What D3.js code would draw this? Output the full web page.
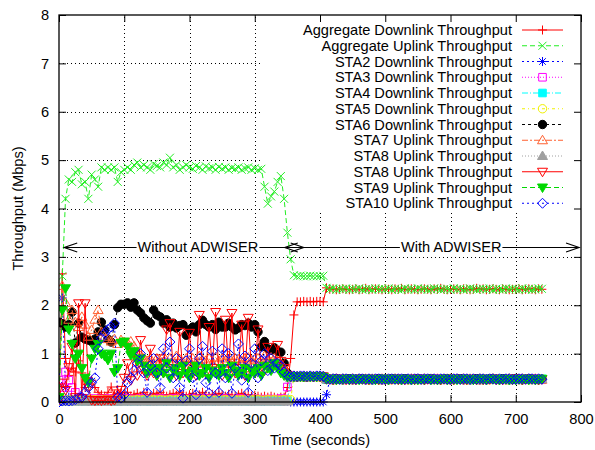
<!DOCTYPE html>
<html><head><meta charset="utf-8">
<script src="https://cdn.jsdelivr.net/npm/d3@7"></script>
<style>body{margin:0;background:#fff}svg{display:block;font-family:"Liberation Sans",Arial,Helvetica,sans-serif}</style>
</head><body><svg id="c" width="595" height="450"></svg>
<script>
const times = [0,5,10,15,20,25,30,35,40,45,
50,55,60,65,70,75,80,85,90,95,
100,105,110,115,120,125,130,135,140,145,
150,155,160,165,170,175,180,185,190,195,
200,205,210,215,220,225,230,235,240,245,
250,255,260,265,270,275,280,285,290,295,
300,305,310,315,320,325,330,335,340,345,
350,355,360,365,370,375,380,385,390,395,
400,405,410,415,420,425,430,435,440,445,
450,455,460,465,470,475,480,485,490,495,
500,505,510,515,520,525,530,535,540,545,
550,555,560,565,570,575,580,585,590,595,
600,605,610,615,620,625,630,635,640,645,
650,655,660,665,670,675,680,685,690,695,
700,705,710,715,720,725,730,735,740];

const aggDown = [0.05,2.65,0.9,0.55,0.7,0.62,0.85,0.6,0.3,0.5,
0.45,0.3,0.2,0.15,0.12,0.2,0.31,0.15,0.25,0.2,
0.15,0.2,0.12,0.15,0.18,0.12,0.2,0.15,0.12,0.18,
0.15,0.2,0.15,0.12,0.15,0.18,0.14,0.2,0.15,0.12,
0.15,0.18,0.12,0.15,0.2,0.15,0.12,0.16,0.14,0.18,
0.15,0.12,0.16,0.14,0.12,0.15,0.18,0.13,0.15,0.12,
0.14,0.12,0.1,0.12,0.1,0.12,0.1,0.08,0.1,0.1,
0.3,0.9,1.8,2.07,2.07,2.08,2.07,2.08,2.07,2.08,
2.08,2.07,2.36,2.33,2.34,2.32,2.33,2.34,2.33,2.32,
2.33,2.34,2.32,2.33,2.35,2.32,2.33,2.34,2.33,2.32,
2.34,2.33,2.32,2.34,2.33,2.35,2.32,2.33,2.34,2.33,
2.32,2.33,2.34,2.33,2.32,2.34,2.33,2.35,2.33,2.32,
2.33,2.34,2.33,2.32,2.34,2.33,2.32,2.33,2.35,2.33,
2.34,2.32,2.33,2.34,2.33,2.32,2.34,2.33,2.32,2.33,
2.33,2.34,2.32,2.33,2.34,2.33,2.32,2.34,2.33];

const aggUp = [0.02,2.6,4.2,4.6,4.55,4.75,4.8,4.5,4.55,4.2,
4.7,4.6,4.45,4.85,4.8,4.85,4.8,4.85,4.55,4.75,
4.8,4.85,4.8,4.9,4.95,4.85,4.9,4.85,4.8,4.92,
4.88,4.85,4.95,4.9,5.05,4.85,4.9,4.8,4.85,4.9,
4.85,4.82,4.88,4.85,4.8,4.87,4.83,4.85,4.8,4.86,
4.82,4.85,4.8,4.84,4.82,4.85,4.8,4.83,4.85,4.8,
4.83,4.8,4.82,4.45,4.1,4.25,4.35,4.55,4.67,4.2,
3.5,2.95,2.62,2.6,2.61,2.6,2.6,2.61,2.6,2.6,
2.6,2.61,2.36,2.33,2.35,2.32,2.34,2.33,2.35,2.32,
2.34,2.33,2.35,2.32,2.33,2.34,2.32,2.35,2.33,2.34,
2.33,2.35,2.32,2.34,2.33,2.32,2.35,2.33,2.34,2.32,
2.35,2.33,2.34,2.32,2.33,2.35,2.34,2.32,2.33,2.34,
2.32,2.35,2.33,2.34,2.32,2.33,2.35,2.34,2.32,2.33,
2.34,2.33,2.35,2.32,2.34,2.33,2.32,2.35,2.33,2.34,
2.33,2.32,2.35,2.33,2.34,2.32,2.33,2.35,2.34];

const sta2Down = [0.35,2.15,0.3,0.1,0.05,0.03,0.02,0.02,0.03,0.02,
0.02,0.03,0.02,0.02,0.03,0.02,0.02,0.03,0.02,0.02,
0.03,0.02,0.02,0.03,0.02,0.02,0.03,0.02,0.02,0.03,
0.02,0.03,0.02,0.02,0.03,0.02,0.02,0.03,0.02,0.02,
0.03,0.02,0.02,0.03,0.02,0.02,0.03,0.02,0.02,0.03,
0.02,0.03,0.02,0.02,0.03,0.02,0.02,0.03,0.02,0.02,
0.02,0.03,0.02,0.02,0.03,0.02,0.02,0.03,0.02,0.02,
0.02,0,0,0,0,0,0,0,0,0,
0,0,0.15,0.47,0.48,0.47,0.46,0.47,0.48,0.47,
0.47,0.46,0.48,0.47,0.47,0.46,0.48,0.47,0.46,0.47,
0.46,0.47,0.47,0.48,0.46,0.47,0.46,0.47,0.48,0.46,
0.48,0.47,0.46,0.47,0.48,0.47,0.47,0.46,0.47,0.48,
0.47,0.46,0.48,0.47,0.47,0.46,0.48,0.47,0.46,0.47,
0.46,0.47,0.47,0.48,0.46,0.47,0.46,0.47,0.48,0.46,
0.48,0.47,0.46,0.47,0.48,0.47,0.47,0.46,0.47];

const sta3Down = [0.45,0.3,0.62,0.45,0.3,0.2,0.1,0.08,0.06,0.06,
0.06,0.07,0.06,0.05,0.06,0.07,0.06,0.06,0.05,0.06,
0.06,0.07,0.06,0.05,0.06,0.07,0.06,0.06,0.05,0.06,
0.06,0.07,0.06,0.05,0.06,0.07,0.06,0.06,0.05,0.06,
0.06,0.07,0.06,0.05,0.06,0.07,0.06,0.06,0.05,0.06,
0.06,0.07,0.06,0.05,0.06,0.07,0.06,0.06,0.05,0.06,
0.06,0.05,0.06,0.05,0.06,0.06,0.05,0.06,0.07,0.06,
0.31,0.5,0.53,0.52,0.53,0.52,0.52,0.53,0.52,0.53,
0.52,0.53,0.47,0.46,0.48,0.47,0.47,0.46,0.48,0.47,
0.46,0.47,0.47,0.48,0.46,0.47,0.46,0.47,0.48,0.46,
0.48,0.47,0.46,0.47,0.48,0.47,0.47,0.46,0.47,0.48,
0.47,0.46,0.48,0.47,0.47,0.46,0.48,0.47,0.46,0.47,
0.46,0.47,0.47,0.48,0.46,0.47,0.46,0.47,0.48,0.46,
0.48,0.47,0.46,0.47,0.48,0.47,0.47,0.46,0.47,0.48,
0.47,0.46,0.48,0.47,0.47,0.46,0.48,0.47,0.46];

const sta4Down = [0.02,0.03,0.02,0.02,0.03,0.02,0.03,0.02,0.02,0.03,
0.02,0.03,0.02,0.02,0.03,0.02,0.03,0.02,0.02,0.03,
0.02,0.03,0.02,0.02,0.03,0.02,0.03,0.02,0.02,0.03,
0.02,0.03,0.02,0.02,0.03,0.02,0.03,0.02,0.02,0.03,
0.02,0.03,0.02,0.02,0.03,0.02,0.03,0.02,0.02,0.03,
0.02,0.03,0.02,0.02,0.03,0.02,0.03,0.02,0.02,0.03,
0.02,0.03,0.02,0.02,0.03,0.02,0.03,0.02,0.02,0.03,
0.03,0.5,0.53,0.52,0.53,0.52,0.53,0.52,0.53,0.52,
0.53,0.52,0.46,0.47,0.47,0.48,0.46,0.47,0.46,0.47,
0.48,0.47,0.46,0.47,0.48,0.47,0.47,0.46,0.47,0.48,
0.47,0.46,0.48,0.47,0.47,0.46,0.48,0.47,0.46,0.47,
0.46,0.47,0.47,0.48,0.46,0.47,0.46,0.47,0.48,0.46,
0.48,0.47,0.46,0.47,0.48,0.47,0.47,0.46,0.47,0.48,
0.47,0.46,0.48,0.47,0.47,0.46,0.48,0.47,0.46,0.47,
0.46,0.47,0.47,0.48,0.46,0.47,0.46,0.47,0.48];

const sta5Down = [0.04,0.05,0.04,0.04,0.05,0.04,0.05,0.04,0.04,0.05,
0.04,0.05,0.04,0.04,0.05,0.04,0.05,0.04,0.04,0.05,
0.04,0.05,0.04,0.04,0.05,0.04,0.05,0.04,0.04,0.05,
0.04,0.05,0.04,0.04,0.05,0.04,0.05,0.04,0.04,0.05,
0.04,0.05,0.04,0.04,0.05,0.04,0.05,0.04,0.04,0.05,
0.04,0.05,0.04,0.04,0.05,0.04,0.05,0.04,0.04,0.05,
0.04,0.05,0.04,0.04,0.05,0.04,0.05,0.04,0.04,0.05,
0.04,0.05,0.52,0.53,0.52,0.52,0.53,0.52,0.53,0.52,
0.52,0.53,0.47,0.48,0.47,0.46,0.47,0.48,0.47,0.46,
0.47,0.46,0.48,0.47,0.47,0.46,0.48,0.47,0.46,0.47,
0.48,0.47,0.46,0.47,0.48,0.47,0.47,0.46,0.47,0.48,
0.46,0.47,0.47,0.48,0.46,0.47,0.46,0.47,0.48,0.46,
0.47,0.46,0.48,0.47,0.47,0.46,0.48,0.47,0.46,0.47,
0.48,0.47,0.46,0.47,0.48,0.47,0.47,0.46,0.47,0.48,
0.46,0.47,0.47,0.48,0.46,0.47,0.46,0.47,0.48];

const sta6Down = [1.65,1.62,1.55,1.6,1.86,1.22,1.63,1.34,1.3,1.28,
1.25,1.3,1.45,1.65,1.49,1.3,1.24,1.6,1.95,2.02,
2.02,2.05,1.96,2.05,1.9,1.84,1.74,1.68,1.63,1.9,
1.8,1.76,1.63,1.7,1.55,1.63,1.53,1.58,1.6,1.38,
1.5,1.55,1.45,1.6,1.69,1.6,1.55,1.6,1.5,1.65,
1.55,1.55,1.63,1.55,1.49,1.53,1.6,1.58,1.63,1.55,
1.6,1.45,1.14,1.25,1.1,1.07,1.12,1.05,1.03,0.8,
0.6,0.52,0.53,0.52,0.53,0.52,0.52,0.53,0.52,0.53,
0.53,0.52,0.47,0.47,0.46,0.48,0.47,0.46,0.47,0.48,
0.46,0.47,0.47,0.48,0.46,0.47,0.46,0.47,0.48,0.46,
0.47,0.46,0.48,0.47,0.47,0.46,0.48,0.47,0.46,0.47,
0.48,0.47,0.46,0.47,0.48,0.47,0.47,0.46,0.47,0.48,
0.46,0.47,0.47,0.48,0.46,0.47,0.46,0.47,0.48,0.46,
0.47,0.46,0.48,0.47,0.47,0.46,0.48,0.47,0.46,0.47,
0.48,0.47,0.46,0.47,0.48,0.47,0.47,0.46,0.47];

const sta7Up = [0.1,2.4,2.05,1.7,1.9,1.65,1.55,1.76,1.6,1.35,
1.49,1.7,1.9,1.45,1.35,1.3,1.25,1.3,1.2,1.28,
1.24,1.22,1.25,1.15,1.0,0.95,0.9,0.85,0.9,0.8,
0.9,0.85,0.95,0.8,0.9,0.85,0.95,0.88,0.82,0.9,
0.85,0.9,0.8,0.95,0.88,0.85,0.9,0.8,0.92,0.85,
0.9,0.85,0.95,0.82,0.9,0.88,0.85,0.9,0.92,0.86,
0.88,0.9,0.85,0.95,0.88,0.92,0.9,0.85,0.8,0.7,
0.6,0.53,0.52,0.53,0.52,0.53,0.52,0.52,0.53,0.52,
0.52,0.53,0.47,0.46,0.47,0.48,0.47,0.47,0.46,0.47,
0.48,0.47,0.46,0.47,0.48,0.47,0.47,0.46,0.47,0.48,
0.46,0.47,0.47,0.48,0.46,0.47,0.46,0.47,0.48,0.46,
0.47,0.46,0.48,0.47,0.47,0.46,0.48,0.47,0.46,0.47,
0.48,0.47,0.46,0.47,0.48,0.47,0.47,0.46,0.47,0.48,
0.46,0.47,0.47,0.48,0.46,0.47,0.46,0.47,0.48,0.46,
0.47,0.46,0.48,0.47,0.47,0.46,0.48,0.47,0.46];

const sta8UpA = [0.01,0.02,0.01,0.01,0.02,0.01,0.01,0.02,0.01,0.01,
0.01,0.02,0.01,0.01,0.02,0.01,0.01,0.02,0.01,0.01,
0.01,0.02,0.01,0.01,0.02,0.01,0.01,0.02,0.01,0.01,
0.01,0.02,0.01,0.01,0.02,0.01,0.01,0.02,0.01,0.01,
0.01,0.02,0.01,0.01,0.02,0.01,0.01,0.02,0.01,0.01,
0.01,0.02,0.01,0.01,0.02,0.01,0.01,0.02,0.01,0.01,
0.01,0.02,0.01,0.01,0.02,0.01,0.01,0.02,0.01,0.01,
0.01,0.5,0.52,0.53,0.52,0.53,0.52,0.53,0.52,0.52,
0.53,0.52,0.47,0.47,0.48,0.46,0.47,0.48,0.47,0.46,
0.47,0.46,0.48,0.47,0.47,0.46,0.48,0.47,0.46,0.47,
0.46,0.47,0.47,0.48,0.46,0.47,0.46,0.47,0.48,0.46,
0.48,0.47,0.46,0.47,0.48,0.47,0.47,0.46,0.47,0.48,
0.47,0.46,0.48,0.47,0.47,0.46,0.48,0.47,0.46,0.47,
0.46,0.47,0.47,0.48,0.46,0.47,0.46,0.47,0.48,0.46,
0.48,0.47,0.46,0.47,0.48,0.47,0.47,0.46,0.47];

const sta8UpB = [0.05,0.4,0.25,0.72,1.14,0.1,2.04,0.08,2.04,0.3,
0.04,0.03,0.04,0.03,0.04,0.05,0.03,0.04,0.1,0.25,
0.5,0.8,0.45,1.0,0.55,1.28,0.66,0.55,1.1,0.6,
0.55,0.9,0.6,1.5,1.63,0.7,0.55,1.45,0.6,0.75,
1.43,0.6,0.55,1.8,0.65,0.6,1.55,0.7,1.86,0.6,
0.55,1.7,0.65,1.84,0.6,0.7,1.6,0.55,1.74,0.65,
0.6,1.5,0.7,0.65,1.14,0.75,0.8,1.18,0.85,0.7,
0.55,0.52,0.53,0.52,0.53,0.53,0.52,0.53,0.52,0.53,
0.52,0.53,0.48,0.47,0.46,0.47,0.48,0.47,0.46,0.47,
0.47,0.46,0.48,0.47,0.47,0.46,0.48,0.47,0.46,0.47,
0.46,0.47,0.47,0.48,0.46,0.47,0.46,0.47,0.48,0.46,
0.48,0.47,0.46,0.47,0.48,0.47,0.47,0.46,0.47,0.48,
0.47,0.46,0.48,0.47,0.47,0.46,0.48,0.47,0.46,0.47,
0.46,0.47,0.47,0.48,0.46,0.47,0.46,0.47,0.48,0.46,
0.48,0.47,0.46,0.47,0.48,0.47,0.47,0.46,0.47];

const sta9Up = [0.1,1.9,2.35,1.5,1.2,0.9,1.0,0.7,0.5,0.4,
0.9,1.1,1.2,1.0,0.95,0.87,1.0,0.62,0.7,1.22,
1.25,1.14,0.97,1.05,0.85,0.9,0.75,0.6,0.7,0.65,
0.55,0.7,0.6,0.8,0.5,0.65,0.7,0.55,0.75,0.6,
0.5,0.65,0.75,0.55,0.6,0.7,0.5,0.65,0.6,0.55,
0.7,0.6,0.5,0.75,0.65,0.55,0.6,0.7,0.5,0.65,
0.6,0.7,0.55,0.75,0.7,0.65,0.8,0.7,0.6,0.55,
0.52,0.53,0.52,0.53,0.52,0.52,0.53,0.52,0.53,0.52,
0.53,0.52,0.47,0.48,0.47,0.46,0.47,0.47,0.48,0.46,
0.48,0.47,0.46,0.47,0.48,0.47,0.47,0.46,0.47,0.48,
0.47,0.46,0.48,0.47,0.47,0.46,0.48,0.47,0.46,0.47,
0.46,0.47,0.47,0.48,0.46,0.47,0.46,0.47,0.48,0.46,
0.48,0.47,0.46,0.47,0.48,0.47,0.47,0.46,0.47,0.48,
0.47,0.46,0.48,0.47,0.47,0.46,0.48,0.47,0.46,0.47,
0.46,0.47,0.47,0.48,0.46,0.47,0.46,0.47,0.48];

const sta10Up = [0,0.02,0.03,0.02,0.03,0.05,0.08,0.1,0.2,0.3,
0.4,0.5,1.1,1.32,1.42,1.5,1.55,1.63,0.1,0.08,
0.15,0.4,0.5,0.65,0.8,1.0,0.6,0.2,0.75,0.9,
0.6,0.3,1.1,0.7,1.24,0.5,0.9,0.3,0.08,0.85,
1.1,0.5,0.15,0.9,1.15,0.4,0.18,1.05,0.6,0.2,
1.1,0.5,1.0,0.18,0.7,1.2,0.45,0.95,0.2,0.8,
1.1,0.5,0.85,1.0,0.65,0.9,0.7,0.8,0.75,0.62,
0.55,0.53,0.54,0.53,0.54,0.54,0.53,0.54,0.53,0.54,
0.54,0.53,0.48,0.47,0.48,0.48,0.47,0.48,0.48,0.47,
0.48,0.47,0.48,0.48,0.47,0.48,0.47,0.48,0.48,0.47,
0.47,0.48,0.48,0.47,0.48,0.48,0.47,0.48,0.47,0.48,
0.48,0.47,0.48,0.48,0.47,0.48,0.47,0.48,0.48,0.47,
0.47,0.48,0.48,0.47,0.48,0.48,0.47,0.48,0.47,0.48,
0.48,0.47,0.48,0.48,0.47,0.48,0.47,0.48,0.48,0.47,
0.47,0.48,0.48,0.47,0.48,0.48,0.47,0.48,0.47];

const seriesNames = ["Aggregate Downlink Throughput","Aggregate Uplink Throughput",
"STA2 Downlink Throughput","STA3 Downlink Throughput","STA4 Downlink Throughput",
"STA5 Downlink Throughput","STA6 Downlink Throughput","STA7 Uplink Throughput",
"STA8 Uplink Throughput","STA8 Uplink Throughput","STA9 Uplink Throughput","STA10 Uplink Throughput"];
const xTicks = [0,100,200,300,400,500,600,700,800];
const yTicks = [0,1,2,3,4,5,6,7,8];
const arrowLabels = ["Without ADWISER","With ADWISER"];
const arrowSpans = [[8,375],[346,797]];
const arrowLabelAt = [213,601];
const arrowLevel = 3.2;

const styles = [
 {c:"#ff0000", dash:null, m:"plus", fill:false},
 {c:"#22ee22", dash:"5,3", m:"cross", fill:false},
 {c:"#0000ff", dash:"2,3", m:"star", fill:false},
 {c:"#ff00ff", dash:"1,2", m:"square", fill:false},
 {c:"#00ffff", dash:"6,2,1,2", m:"square", fill:true},
 {c:"#f0f000", dash:"3,3,1,3", m:"circle", fill:false},
 {c:"#000000", dash:"3,3", m:"circle", fill:true},
 {c:"#ff6030", dash:"6,2,2,2", m:"triUp", fill:false},
 {c:"#a0a0a0", dash:"1,2", m:"triUp", fill:true},
 {c:"#ff0000", dash:null, m:"triDown", fill:false},
 {c:"#00d800", dash:"5,3", m:"triDown", fill:true},
 {c:"#0000ff", dash:"2,3", m:"diamond", fill:false}
];
const values = [aggDown, aggUp, sta2Down, sta3Down, sta4Down, sta5Down, sta6Down, sta7Up, sta8UpA, sta8UpB, sta9Up, sta10Up];

function marker(t, x, y){
  const r = 4.2;
  switch(t){
    case "plus": return `M${x-4.5},${y}h9M${x},${y-4.5}v9`;
    case "cross": return `M${x-4},${y-4}l8,8M${x-4},${y+4}l8,-8`;
    case "star": return `M${x-4.5},${y}h9M${x},${y-4.5}v9M${x-3.3},${y-3.3}l6.6,6.6M${x-3.3},${y+3.3}l6.6,-6.6`;
    case "square": return `M${x-3.8},${y-3.8}h7.6v7.6h-7.6Z`;
    case "circle": return `M${x-r},${y}a${r},${r} 0 1,0 ${2*r},0a${r},${r} 0 1,0 ${-2*r},0Z`;
    case "triUp": return `M${x},${y-5}L${x+5},${y+3.5}L${x-5},${y+3.5}Z`;
    case "triDown": return `M${x},${y+5}L${x+5},${y-3.5}L${x-5},${y-3.5}Z`;
    case "diamond": return `M${x},${y-5}L${x+5},${y}L${x},${y+5}L${x-5},${y}Z`;
  }
}

const svg = d3.select("#c");
const L = 59, R = 581, T = 15, B = 402;
const x = d3.scaleLinear().domain([0,800]).range([L,R]);
const y = d3.scaleLinear().domain([0,8]).range([B,T]);
const fs = "14.6px";

// grid
const grid = svg.append("g").attr("stroke","#000").attr("stroke-width",1).attr("stroke-dasharray","1,3");
grid.selectAll("line.v").data(xTicks.slice(1,-1)).join("line")
  .attr("x1",d=>Math.round(x(d))+0.5).attr("x2",d=>Math.round(x(d))+0.5).attr("y1",B).attr("y2",T);
grid.selectAll("line.h").data(yTicks.slice(1,-1)).join("line")
  .attr("y1",d=>Math.round(y(d))+0.5).attr("y2",d=>Math.round(y(d))+0.5).attr("x1",L).attr("x2",R);
// key area hides grid
svg.append("rect").attr("x",262).attr("y",T).attr("width",R-262).attr("height",212-T).attr("fill","#fff");

// data
svg.append("clipPath").attr("id","pc").append("rect").attr("x",L).attr("y",T-6).attr("width",R-L).attr("height",B-T+12);
const data = svg.append("g").attr("clip-path","url(#pc)");
const line = d3.line().x((d,i)=>x(times[i])).y(d=>y(d));
values.forEach((vals,k)=>{
  const s = styles[k];
  data.append("path").attr("d",line(vals)).attr("fill","none").attr("stroke",s.c)
    .attr("stroke-width",1).attr("stroke-dasharray",s.dash);
  data.append("path").attr("d",vals.map((v,i)=>marker(s.m,x(times[i]),y(v))).join(""))
    .attr("fill",s.fill? s.c : "none").attr("stroke",s.c).attr("stroke-width",1);
});

// axes
const ax = svg.append("g").attr("transform",`translate(0,${B})`)
  .call(d3.axisBottom(x).tickValues(xTicks).tickSizeInner(-7).tickSizeOuter(0).tickPadding(12));
const ay = svg.append("g").attr("transform",`translate(${L},0)`)
  .call(d3.axisLeft(y).tickValues(yTicks).tickSizeInner(-7).tickSizeOuter(0).tickPadding(10));
const at = svg.append("g").attr("transform",`translate(0,${T})`)
  .call(d3.axisTop(x).tickValues(xTicks).tickSizeInner(-7).tickSizeOuter(0).tickFormat(""));
const ar = svg.append("g").attr("transform",`translate(${R},0)`)
  .call(d3.axisRight(y).tickValues(yTicks).tickSizeInner(-7).tickSizeOuter(0).tickFormat(""));
[ax,ay,at,ar].forEach(g=>{
  g.select(".domain").remove();
  g.selectAll("text").attr("font-size",fs).attr("fill","#000").attr("font-family","Liberation Sans, Arial, sans-serif");
  g.selectAll("line").attr("stroke","#000");
});
svg.append("rect").attr("x",L).attr("y",T).attr("width",R-L).attr("height",B-T)
  .attr("fill","none").attr("stroke","#000").attr("stroke-width",1.3);

// axis titles
svg.append("text").attr("x",(L+R)/2).attr("y",445).attr("text-anchor","middle").attr("font-size",fs).text("Time (seconds)");
svg.append("text").attr("transform",`translate(23,${(T+B)/2}) rotate(-90)`).attr("text-anchor","middle").attr("font-size",fs).text("Throughput (Mbps)");

// arrows
const ag = svg.append("g");
arrowSpans.forEach((sp,k)=>{
  const yy = Math.round(y(arrowLevel))+0.5, x1 = x(sp[0]), x2 = x(sp[1]);
  ag.append("path").attr("d",`M${x1},${yy}H${x2}M${x1+13},${yy-4.5}L${x1},${yy}L${x1+13},${yy+4.5}M${x2-13},${yy-4.5}L${x2},${yy}L${x2-13},${yy+4.5}`)
    .attr("fill","none").attr("stroke","#000").attr("stroke-width",1.2);
});
arrowLabels.forEach((lab,k)=>{
  const t = ag.append("text").attr("x",x(arrowLabelAt[k])).attr("y",y(arrowLevel)+5).attr("text-anchor","middle").attr("font-size",fs).text(lab);
  const w = t.node().getComputedTextLength();
  ag.insert("rect","text").attr("x",x(arrowLabelAt[k])-w/2-1).attr("y",y(arrowLevel)-7).attr("width",w+2).attr("height",14).attr("fill","#fff");
});
ag.selectAll("text").raise();

// legend
const lg = svg.append("g");
seriesNames.forEach((n,k)=>{
  const s = styles[k];
  const yy = 30 + k*15.75;
  lg.append("text").attr("x",512).attr("y",yy+5).attr("text-anchor","end").attr("font-size",fs).text(n);
  lg.append("path").attr("d",`M522,${yy}H563`).attr("stroke",s.c).attr("stroke-dasharray",s.dash).attr("fill","none");
  lg.append("path").attr("d",marker(s.m,542.5,yy)).attr("fill",s.fill? s.c:"none").attr("stroke",s.c);
});
</script></body></html>
